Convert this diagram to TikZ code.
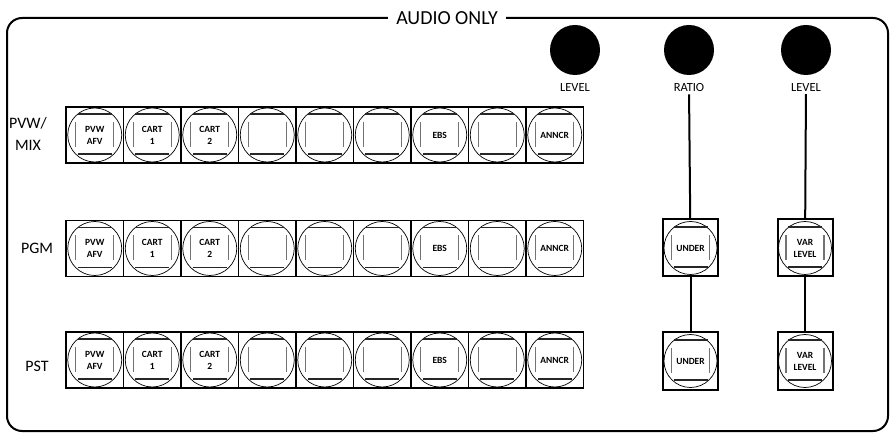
\documentclass[tikz,border=0pt]{standalone}
\usepackage{fontspec}
\setmainfont{Carlito}
\usetikzlibrary{positioning}
\definecolor{lampgray}{gray}{0.45}

\tikzset{
  lamp/.style={
    path picture={
      \coordinate (c) at (path picture bounding box.center);
      \draw[line width=0.7bp] (c) circle (#1);
      \draw[line width=1.3bp, black!85] ([shift={(-17,-21)}]c) -- ([shift={(17,-21)}]c);
      \draw[line width=1.3bp, black!85] ([shift={(-17,19)}]c) -- ([shift={(17,19)}]c);
      \draw[line width=1.3bp, lampgray] ([shift={(-19,-13)}]c) -- ([shift={(-19,12)}]c);
      \draw[line width=1.3bp, lampgray] ([shift={(19,-13)}]c) -- ([shift={(19,12)}]c);
    }},
  btn/.style={draw, line width=1.6bp, minimum width=57.5bp, minimum height=56bp,
    inner sep=0pt, align=center, font=\bfseries\fontsize{9.5}{12}\selectfont, lamp=27bp},
  sidebtn/.style={btn, line width=2bp, minimum width=55bp, minimum height=57bp, lamp=26.5bp},
  knob/.style={circle, fill=black, minimum size=50bp, inner sep=0pt},
  knoblabel/.style={font=\fontsize{12.5}{14}\selectfont, inner sep=2bp},
  rowlabel/.style={font=\fontsize{16}{22}\selectfont, align=center, inner sep=0pt}
}

\begin{document}
\begin{tikzpicture}[x=1bp, y=-1bp]
    \useasboundingbox (0,0) rectangle (892,433);

    % Frame and title
    \draw[line width=2bp, rounded corners=15bp] (7,18) rectangle (888,431);
    \node[fill=white, inner xsep=8bp, font=\fontsize{20}{22}\selectfont] (title) at (447,18) {AUDIO ONLY};

    % Row labels
    \node[rowlabel] (lpvw) at (28,134) {PVW/\\MIX};
    \node[rowlabel] (lpgm) at (37,248) {PGM};
    \node[rowlabel] (lpst) at (37,366) {PST};

    % Button rows
    \foreach \txt [count=\i] in {{PVW\\AFV},{CART\\1},{CART\\2},{},{},{},EBS,{},ANNCR} {
        \node[btn] (p\i) at ({37.25+57.5*\i},135) {\txt};
        \node[btn] (g\i) at ({37.25+57.5*\i},248.5) {\txt};
        \node[btn] (s\i) at ({37.25+57.5*\i},360) {\txt};
    }

    % Knobs
    \node[knob] (k1) at (575,50) {};
    \node[knob] (k2) at (689,50) {};
    \node[knob] (k3) at (806,50) {};
    \node[knoblabel] (kl1) at (575,88) {LEVEL};
    \node[knoblabel] (kl2) at (689,88) {RATIO};
    \node[knoblabel] (kl3) at (806,88) {LEVEL};

    % Side buttons
    \node[sidebtn] (u1) at (690.5,248) {UNDER};
    \node[sidebtn] (u2) at (690.5,361) {UNDER};
    \node[sidebtn] (v1) at (805,248) {VAR\\LEVEL};
    \node[sidebtn] (v2) at (805,361) {VAR\\LEVEL};

    % Connectors
    \draw[line width=2bp] (kl2) -- (u1);
    \draw[line width=2bp] (u1) -- (u2);
    \draw[line width=2bp] (kl3) -- (v1);
    \draw[line width=2bp] (v1) -- (v2);
\end{tikzpicture}
\end{document}
